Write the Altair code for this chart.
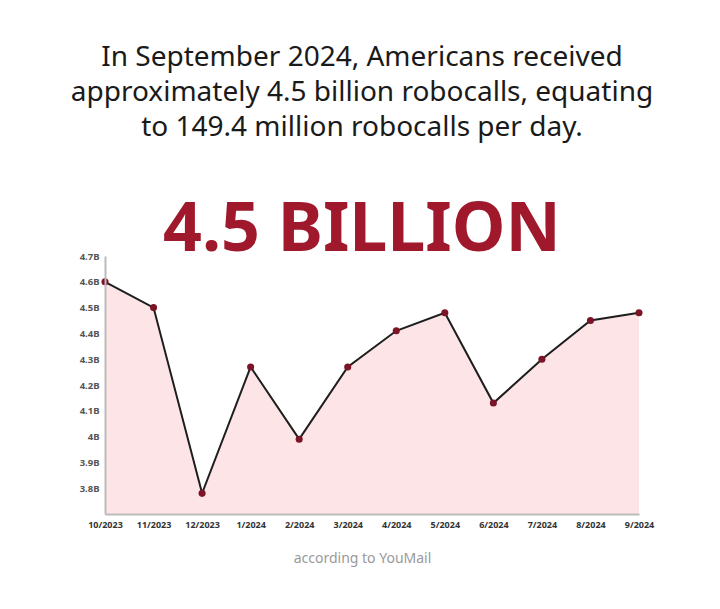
import altair as alt
import pandas as pd

months = ["10/2023", "11/2023", "12/2023", "1/2024", "2/2024", "3/2024",
          "4/2024", "5/2024", "6/2024", "7/2024", "8/2024", "9/2024"]
calls_b = [4.60, 4.50, 3.78, 4.27, 3.99, 4.27, 4.41, 4.48, 4.13, 4.30, 4.45, 4.48]
y_ticks = [3.8, 3.9, 4.0, 4.1, 4.2, 4.3, 4.4, 4.5, 4.6, 4.7]

df = pd.DataFrame({"month": months, "calls": calls_b})

FONT = "Noto Sans"

x = alt.X("month:O", sort=months,
          scale=alt.Scale(type="point", padding=0),
          axis=alt.Axis(title="according to YouMail", labelAngle=0, ticks=False,
                        labelFont=FONT, labelFontSize=9, labelFontWeight="bold",
                        labelColor="#333333", labelPadding=6,
                        domainColor="#bbbbbb", domainWidth=2, zindex=1,
                        titleFont=FONT, titleFontSize=14, titleFontWeight="normal",
                        titleColor="#9a9a9a", titlePadding=22, titleX=257))
y = alt.Y("calls:Q", scale=alt.Scale(domain=[3.7, 4.7], nice=False, zero=False),
          axis=alt.Axis(title=None, values=y_ticks, grid=False, ticks=False,
                        labelExpr="format(datum.value, '.1~f') + 'B'",
                        labelFont=FONT, labelFontSize=9.5, labelFontWeight="bold",
                        labelColor="#555555", labelPadding=6, zindex=1,
                        domainColor="#bbbbbb", domainWidth=2))

base = alt.Chart(df).encode(x=x, y=y)

area = base.mark_area(color="#fde4e7", opacity=1, clip=True)
line = base.mark_line(color="#1e1e1e", strokeWidth=2)
pts = base.mark_circle(color="#7a1426", size=50, opacity=1)

chart = alt.layer(area, line, pts).properties(
    width=534, height=258,
    background="white",
    padding={"left": 62, "top": 36, "right": 50, "bottom": 10},
    title=alt.TitleParams(
        text=["In September 2024, Americans received",
              "approximately 4.5 billion robocalls, equating",
              "to 149.4 million robocalls per day."],
        subtitle="4.5 BILLION",
        font=FONT, fontSize=28, fontWeight="normal", color="#1a1a1a",
        lineHeight=35,
        subtitleFont=FONT, subtitleFontSize=68, subtitleFontWeight="bold",
        subtitleColor="#a0182b", subtitlePadding=55,
        anchor="middle", offset=-14, dx=-10),
).configure_view(stroke="transparent", strokeWidth=0)

chart.save("out.html", embed_options={"renderer": "svg", "actions": False})
